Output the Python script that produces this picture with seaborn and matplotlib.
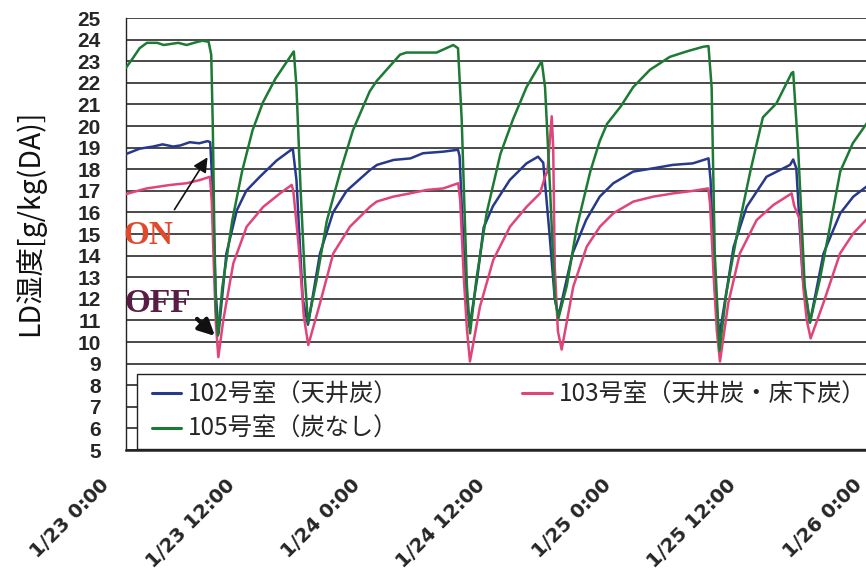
import matplotlib
matplotlib.use("Agg")
import matplotlib.pyplot as plt
from matplotlib.font_manager import FontProperties
from matplotlib.legend_handler import HandlerBase
from matplotlib.lines import Line2D
from matplotlib.transforms import ScaledTranslation
import pandas as pd
import seaborn as sns

# ---- data: hours elapsed since 1/23 0:00, absolute humidity [g/kg(DA)] ----
room102_h = [0.0, 1.3, 2.6, 3.5, 4.5, 5.2, 6.1, 7.0, 7.8, 8.05, 8.3, 8.55, 8.85, 9.6, 10.6, 11.5,
             12.8, 14.4, 15.8, 15.95, 16.3, 16.9, 17.4, 18.55, 19.8, 21.1, 23.3, 24.0, 25.6, 27.2,
             28.4, 30.3, 31.75, 31.9, 32.4, 32.85, 33.6, 34.2, 35.1, 36.7, 38.3, 39.4, 39.9, 40.5,
             41.0, 41.35, 42.7, 44.0, 45.3, 46.6, 48.5, 50.4, 52.3, 54.2, 55.7, 55.9, 56.3, 56.75,
             58.1, 59.35, 61.25, 62.85, 63.5, 63.8, 64.1, 64.7, 65.4, 66.7, 68.3, 69.55, 70.8, 72.0]
room102_v = [18.7, 18.95, 19.05, 19.15, 19.05, 19.1, 19.25, 19.2, 19.3, 19.25, 17.0, 12.5, 10.4,
             14.1, 16.1, 17.0, 17.65, 18.4, 18.9, 18.95, 17.5, 12.0, 10.8, 14.1, 16.0, 17.0, 17.95,
             18.2, 18.43, 18.5, 18.74, 18.81, 18.9, 18.6, 13.0, 10.7, 13.0, 15.3, 16.3, 17.5, 18.27,
             18.58, 18.3, 15.0, 12.0, 11.2, 14.1, 15.65, 16.73, 17.35, 17.89, 18.04, 18.2, 18.27,
             18.5, 17.5, 12.5, 10.3, 14.4, 16.26, 17.65, 18.04, 18.2, 18.45, 18.04, 13.0, 10.9,
             14.1, 15.96, 16.73, 17.19, 17.5]

room103_h = [0.0, 0.22, 1.98, 4.21, 5.8, 7.08, 8.03, 8.2, 8.4, 8.6, 8.83, 9.3, 10.26, 11.54, 13.13,
             14.73, 15.84, 16.0, 16.5, 17.0, 17.43, 18.55, 19.82, 21.42, 23.33, 23.97, 25.56, 27.16,
             28.75, 30.34, 31.77, 31.95, 32.3, 32.6, 32.89, 33.85, 35.12, 36.72, 38.31, 39.59, 40.07,
             40.3, 40.71, 40.85, 41.0, 41.3, 41.66, 42.77, 44.05, 45.32, 46.6, 48.51, 50.42, 52.33,
             54.25, 55.68, 55.85, 56.2, 56.5, 56.8, 57.59, 58.7, 60.31, 61.9, 63.65, 63.9, 64.45,
             64.76, 65.1, 65.47, 66.68, 68.28, 69.55, 70.76, 72.0]
room103_v = [16.85, 16.88, 17.11, 17.27, 17.35, 17.5, 17.65, 16.5, 13.5, 10.8, 9.3, 11.0, 13.64,
             15.34, 16.26, 16.88, 17.27, 17.0, 14.5, 11.2, 9.86, 11.79, 14.1, 15.34, 16.26, 16.5,
             16.73, 16.88, 17.04, 17.11, 17.35, 16.6, 13.0, 10.6, 9.1, 11.64, 13.8, 15.34, 16.26,
             16.88, 17.65, 17.9, 20.45, 19.0, 13.5, 10.5, 9.65, 12.56, 14.41, 15.34, 15.96, 16.5,
             16.73, 16.88, 17.0, 17.11, 16.4, 13.0, 10.5, 9.1, 11.79, 14.1, 15.65, 16.34, 16.88,
             16.3, 15.65, 12.56, 11.0, 10.17, 11.79, 14.1, 15.03, 15.65, 16.1]

room105_h = [0.0, 0.6, 1.3, 2.0, 3.0, 3.6, 4.3, 5.0, 5.8, 6.5, 7.3, 7.9, 8.15, 8.3, 8.45, 8.6, 8.8,
             9.2, 10.15, 11.1, 12.1, 13.1, 14.3, 15.9, 16.05, 16.3, 16.7, 17.1, 17.4, 18.2, 19.2,
             20.5, 21.7, 23.3, 24.0, 26.2, 26.8, 29.7, 31.3, 31.75, 32.1, 32.6, 32.9, 33.5, 34.5,
             35.8, 37.0, 38.3, 39.75, 40.07, 40.54, 41.0, 41.35, 42.15, 43.1, 44.4, 45.3, 46.0,
             47.3, 48.5, 50.1, 52.0, 53.6, 55.2, 55.7, 56.0, 56.3, 56.75, 57.4, 58.4, 59.7, 60.9,
             62.2, 63.65, 63.8, 64.3, 64.9, 65.4, 66.35, 67.3, 68.3, 69.5, 70.8, 72.0]
room105_v = [22.7, 23.1, 23.6, 23.85, 23.85, 23.75, 23.8, 23.85, 23.75, 23.85, 23.95, 23.9, 23.3,
             20.0, 15.0, 11.5, 10.3, 12.5, 15.6, 17.9, 19.8, 21.1, 22.2, 23.35, 23.45, 21.8, 17.0,
             13.0, 10.9, 12.8, 15.6, 17.9, 19.8, 21.6, 22.1, 23.3, 23.4, 23.4, 23.75, 23.6, 20.3,
             12.6, 10.4, 12.9, 16.0, 18.7, 20.3, 21.8, 23.0, 21.8, 17.2, 12.1, 11.1, 12.6, 15.3,
             17.9, 19.3, 20.1, 20.9, 21.8, 22.6, 23.2, 23.45, 23.67, 23.7, 21.8, 14.1, 9.6, 12.25,
             14.9, 17.9, 20.4, 21.05, 22.45, 22.5, 18.7, 12.6, 10.9, 12.9, 15.3, 17.9, 19.2, 20.1,
             20.9]

series_labels = ["102号室（天井炭）", "103号室（天井炭・床下炭）", "105号室（炭なし）"]
series_colors = ["#27398c", "#e0457a", "#1d7a34"]

tick_hours = [0, 12, 24, 36, 48, 60, 72]
tick_labels = ["1/23 0:00", "1/23 12:00", "1/24 0:00", "1/24 12:00",
               "1/25 0:00", "1/25 12:00", "1/26 0:00"]
y_ticks = list(range(5, 26))


class InsetLineHandler(HandlerBase):
    """Legend line that starts a little to the right of the handle box."""

    def __init__(self, start=0.2, **kw):
        super().__init__(**kw)
        self.start = start

    def create_artists(self, legend, orig_handle, xdescent, ydescent, width, height,
                       fontsize, trans):
        y = height / 2 - ydescent
        x0 = -xdescent + self.start * width
        line = Line2D([x0, -xdescent + width], [y, y], color=orig_handle.get_color(),
                      linewidth=orig_handle.get_linewidth(), transform=trans)
        return [line]


# ---- figure ----
sns.set_style("white")
plt.rcParams["font.family"] = ["Liberation Sans", "Noto Sans CJK JP", "DejaVu Sans"]

W, H = 866, 577
fig = plt.figure(figsize=(W / 100, H / 100), dpi=100)
left_px, right_px, top_px, bottom_px = 126, 889.4, 18, 450
ax = fig.add_axes([left_px / W, (H - bottom_px) / H,
                   (right_px - left_px) / W, (bottom_px - top_px) / H])

frames = [
    pd.DataFrame({"hour": room102_h, "value": room102_v}),
    pd.DataFrame({"hour": room103_h, "value": room103_v}),
    pd.DataFrame({"hour": room105_h, "value": room105_v}),
]
draw_order = [1, 0, 2]  # 103 underneath, 105 on top
for i in draw_order:
    sns.lineplot(data=frames[i], x="hour", y="value", color=series_colors[i],
                 linewidth=1.8, estimator=None, sort=False, ax=ax, zorder=3 + i)

ax.set_xlim(0, 73)
ax.set_ylim(5, 25)
ax.set_xlabel("")
ax.set_ylabel("")

ax.set_yticks(y_ticks)
ax.set_yticklabels([str(v) for v in y_ticks])
ax.set_xticks(tick_hours)
ax.set_xticklabels(tick_labels)

ax.yaxis.grid(True, color="#3c3c3c", linewidth=1.3)
ax.xaxis.grid(False)
ax.set_axisbelow(True)

for s in ["top", "right"]:
    ax.spines[s].set_visible(False)
ax.spines["left"].set_color("#222222")
ax.spines["left"].set_linewidth(1.0)
ax.spines["bottom"].set_color("#222222")
ax.spines["bottom"].set_linewidth(1.8)

ax.tick_params(axis="y", length=0, pad=18, labelsize=15)
ax.tick_params(axis="x", direction="in", length=7, width=1.0, color="#222222",
               pad=23, labelsize=14)
for lab in ax.get_yticklabels():
    lab.set_fontweight("bold")
shift = ScaledTranslation(-20 / 100, 0, fig.dpi_scale_trans)
for lab in ax.get_xticklabels():
    lab.set_fontfamily(["DejaVu Sans"])
    lab.set_fontweight("bold")
    lab.set_rotation(45)
    lab.set_ha("right")
    lab.set_va("center")
    lab.set_rotation_mode("anchor")
    lab.set_transform(lab.get_transform() + shift)

# ---- legend ----
handles = [Line2D([], [], color=series_colors[i], linewidth=2.2) for i in range(3)]
order = [0, 2, 1]
leg = ax.legend([handles[i] for i in order], [series_labels[i] for i in order],
                ncol=2, loc="upper left",
                bbox_to_anchor=(137 / W, (H - 374) / H), bbox_transform=fig.transFigure,
                prop=FontProperties(family=["Noto Sans CJK JP"], size=17.5),
                frameon=True, fancybox=False, framealpha=1.0, edgecolor="#222222",
                borderpad=0.3, handlelength=1.5, handletextpad=0.3,
                columnspacing=4.8, labelspacing=0.36, borderaxespad=0,
                handler_map={Line2D: InsetLineHandler(start=0.2)})
leg.get_frame().set_linewidth(1.0)
leg.set_zorder(10)

# ---- axis title ----
fig.text(30 / W, 1 - 223 / H, "LD湿度[g/kg(DA)]", rotation=90, ha="center", va="center",
         fontsize=20.5, family=["Noto Sans CJK JP"], color="#111111")

# ---- ON / OFF annotations ----
ax.annotate("", xy=(7.94, 18.66), xytext=(4.49, 16.02),
            arrowprops=dict(arrowstyle="-|>", color="#111111", lw=1.2, mutation_scale=22),
            annotation_clip=False, zorder=12)
ax.text(2.1, 14.95, "ON", ha="center", va="center", fontsize=24, fontweight="bold",
        family=["Liberation Serif", "DejaVu Serif"], color="#e04a2c", clip_on=False, zorder=12)
ax.annotate("", xy=(8.7, 10.19), xytext=(6.6, 11.16),
            arrowprops=dict(arrowstyle="-|>", color="#111111", lw=3.0, mutation_scale=24),
            annotation_clip=False, zorder=12)
ax.text(3.0, 11.8, "OFF", ha="center", va="center", fontsize=24, fontweight="bold",
        family=["Liberation Serif", "DejaVu Serif"], color="#5a1c45", clip_on=False, zorder=12)

fig.savefig("out.png", dpi=100)
